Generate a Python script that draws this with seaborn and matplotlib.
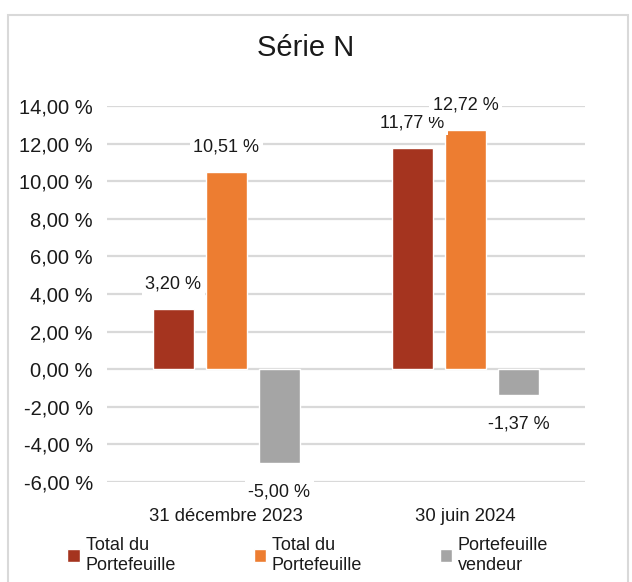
import matplotlib
matplotlib.use("Agg")
from matplotlib import pyplot as plt
from matplotlib.patches import Rectangle
from matplotlib.ticker import FuncFormatter
import seaborn as sns
import pandas as pd

# data
dates = ["31 décembre 2023", "30 juin 2024"]
series = ["Total du Portefeuille A", "Total du Portefeuille B", "Portefeuille vendeur"]
legend_labels = ["Total du\nPortefeuille", "Total du\nPortefeuille", "Portefeuille\nvendeur"]
values_a = [3.20, 11.77]
values_b = [10.51, 12.72]
values_v = [-5.00, -1.37]
colors = ["#a5341f", "#ed7d31", "#a5a5a5"]

rows = []
for name, vals in zip(series, [values_a, values_b, values_v]):
    for d, v in zip(dates, vals):
        rows.append({"date": d, "serie": name, "valeur": v})
df = pd.DataFrame(rows)

sns.set_style("white")
plt.rcParams['font.family'] = ['Liberation Sans', 'DejaVu Sans']

def fr_pct(v):
    return ("%.2f" % v).replace(".", ",") + " %"

fig = plt.figure(figsize=(6.32, 5.82), dpi=100)
ax = fig.add_axes([0.169, 0.172, 0.757, 0.646])

sns.barplot(data=df, x="date", y="valeur", hue="serie", palette=colors,
            saturation=1, width=0.665, gap=0.22, ax=ax, legend=True, zorder=3)

ax.set_ylim(-6, 14)
ax.set_yticks(range(-6, 15, 2))
ax.yaxis.set_major_formatter(FuncFormatter(lambda v, p: fr_pct(v)))
ax.grid(axis="y", color="#d9d9d9", linewidth=1.6, zorder=0)
ax.set_axisbelow(True)
for s in ax.spines.values():
    s.set_visible(False)
ax.tick_params(axis="y", labelsize=14.5, length=0, pad=10, labelcolor="#1a1a1a")
ax.tick_params(axis="x", labelsize=13.3, length=0, pad=19, labelcolor="#1a1a1a")
ax.set_xlabel("")
ax.set_ylabel("")

# data labels
for cont in ax.containers:
    for bar in cont:
        h = bar.get_height()
        x = bar.get_x() + bar.get_width() / 2
        off = 18 if h >= 0 else -21
        ax.annotate(fr_pct(h), (x, h), xytext=(0, off), textcoords="offset points",
                    ha="center", va="center", fontsize=13, color="#1a1a1a",
                    bbox=dict(boxstyle="square,pad=0.2", fc="white", ec="none"),
                    zorder=5, annotation_clip=False)

fig.text(0.484, 0.918, "Série N", ha="center", va="center", fontsize=21, color="#1a1a1a")

handles = ax.get_legend().legend_handles
ax.get_legend().remove()
fig.legend(handles, legend_labels, loc="center", bbox_to_anchor=(0.487, 0.046),
           ncol=3, frameon=False, fontsize=13, handlelength=0.7, handleheight=0.7,
           handletextpad=0.3, columnspacing=4.3, labelcolor="#1a1a1a")

fig.patches.append(Rectangle((0.013, -0.01), 0.98, 0.985, transform=fig.transFigure,
                             fill=False, ec="#d9d9d9", lw=1.5))

fig.savefig("out.png", dpi=100)
